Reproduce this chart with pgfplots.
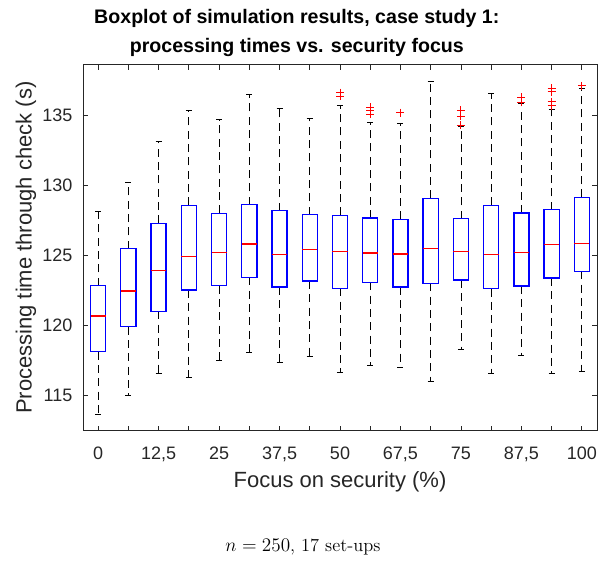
\documentclass[border=0pt]{standalone}
\usepackage{fontspec}
\usepackage{pgfplots}
\pgfplotsset{compat=1.18}
\usepgfplotslibrary{statistics}
\usetikzlibrary{calc}
\newfontfamily\arial{Liberation Sans}
\definecolor{axisgray}{rgb}{0.15,0.15,0.15}
\definecolor{boxblue}{rgb}{0,0,1}
\pgfplotsset{
  boxplot/draw direction=y,
  boxplot/draw/lower whisker/.code={
    \draw[black, line width=0.6pt, dash pattern=on 6pt off 4pt]
      (boxplot box cs:\pgfplotsboxplotvalue{lower quartile},0.5) --
      (boxplot box cs:\pgfplotsboxplotvalue{lower whisker},0.5);
    \draw[black, line width=0.6pt, solid]
      (boxplot whisker cs:\pgfplotsboxplotvalue{lower whisker},0) --
      (boxplot whisker cs:\pgfplotsboxplotvalue{lower whisker},1);
  },
  boxplot/draw/upper whisker/.code={
    \draw[black, line width=0.6pt, dash pattern=on 6pt off 4pt]
      (boxplot box cs:\pgfplotsboxplotvalue{upper quartile},0.5) --
      (boxplot box cs:\pgfplotsboxplotvalue{upper whisker},0.5);
    \draw[black, line width=0.6pt, solid]
      (boxplot whisker cs:\pgfplotsboxplotvalue{upper whisker},0) --
      (boxplot whisker cs:\pgfplotsboxplotvalue{upper whisker},1);
  },
  boxplot/draw/box/.code={
    \draw[boxblue, line width=1.05pt, solid]
      (boxplot box cs:\pgfplotsboxplotvalue{lower quartile},0) rectangle
      (boxplot box cs:\pgfplotsboxplotvalue{upper quartile},1);
  },
  boxplot/draw/median/.code={
    \draw[red, line width=1.05pt, solid]
      (boxplot box cs:\pgfplotsboxplotvalue{median},0) --
      (boxplot box cs:\pgfplotsboxplotvalue{median},1);
  },
  boxplot/box extend=0.5,
  boxplot/whisker extend=0.2,
  mybox/.style={boxblue, solid, mark=+, mark size=3pt, mark options={red, solid, line width=0.7pt}},
}
\begin{document}
\begin{tikzpicture}
\begin{axis}[
  name=ax,
  scale only axis, width=385.5pt, height=274.5pt,
  xmin=0.5, xmax=17.5, ymin=112.45, ymax=138.6,
  clip=false,
  xtick={1,...,17},
  xticklabels={0,{},{12,5},{},25,{},{37,5},{},50,{},{67,5},{},75,{},{87,5},{},100},
  ytick={115,120,125,130,135},
  tick align=inside, major tick length=3.75pt,
  axis line style={draw=axisgray, line width=0.6pt},
  tick style={draw=axisgray, line width=0.6pt},
  /pgf/number format/assume math mode=true,
  tick label style={font=\arial\fontsize{13.5}{16}\selectfont, text=axisgray},
  xticklabel style={yshift=-9pt},
  yticklabel style={xshift=-4.5pt},
  xlabel={Focus on security (\%)},
  ylabel={Processing time through check (s)},
  label style={font=\arial\fontsize{16.5}{19}\selectfont, text=axisgray},
  xlabel style={at={(axis description cs:0.5,-0.140)}, anchor=center},
  ylabel style={at={(axis description cs:-0.111,0.5)}, anchor=center, rotate=0},
  title={Boxplot of simulation results, case study 1:\\processing times vs. security focus},
  title style={font=\arial\bfseries\fontsize{14.7}{21.5}\selectfont, align=center, at={(axis description cs:0.416,1)}, anchor=base, yshift=3pt},
]
\addplot[mybox, boxplot prepared={draw position=1, lower whisker=113.62, lower quartile=118.09, median=120.64, upper quartile=122.81, upper whisker=128.12}] coordinates {};
\addplot[mybox, boxplot prepared={draw position=2, lower whisker=115.0, lower quartile=119.88, median=122.43, upper quartile=125.45, upper whisker=130.17}] coordinates {};
\addplot[mybox, boxplot prepared={draw position=3, lower whisker=116.55, lower quartile=120.98, median=123.88, upper quartile=127.26, upper whisker=133.14}] coordinates {};
\addplot[mybox, boxplot prepared={draw position=4, lower whisker=116.29, lower quartile=122.5, median=124.90, upper quartile=128.55, upper whisker=135.31}] coordinates {};
\addplot[mybox, boxplot prepared={draw position=5, lower whisker=117.45, lower quartile=122.81, median=125.17, upper quartile=127.98, upper whisker=134.67}] coordinates {};
\addplot[mybox, boxplot prepared={draw position=6, lower whisker=118.05, lower quartile=123.40, median=125.79, upper quartile=128.6, upper whisker=136.45}] coordinates {};
\addplot[mybox, boxplot prepared={draw position=7, lower whisker=117.36, lower quartile=122.71, median=125.02, upper quartile=128.17, upper whisker=135.5}] coordinates {};
\addplot[mybox, boxplot prepared={draw position=8, lower whisker=117.74, lower quartile=123.14, median=125.38, upper quartile=127.88, upper whisker=134.74}] coordinates {};
\addplot[mybox, boxplot prepared={draw position=9, lower whisker=116.6, lower quartile=122.62, median=125.26, upper quartile=127.83, upper whisker=135.69}] table[row sep=\\, y index=0] {data\\ 136.6\\ 136.35\\};
\addplot[mybox, boxplot prepared={draw position=10, lower whisker=117.14, lower quartile=123.05, median=125.14, upper quartile=127.64, upper whisker=134.48}] table[row sep=\\, y index=0] {data\\ 135.55\\ 135.3\\ 135.05\\};
\addplot[mybox, boxplot prepared={draw position=11, lower whisker=117.0, lower quartile=122.71, median=125.07, upper quartile=127.55, upper whisker=134.40}] table[row sep=\\, y index=0] {data\\ 135.17\\};
\addplot[mybox, boxplot prepared={draw position=12, lower whisker=115.95, lower quartile=122.98, median=125.48, upper quartile=129.05, upper whisker=137.4}] coordinates {};
\addplot[mybox, boxplot prepared={draw position=13, lower whisker=118.26, lower quartile=123.21, median=125.26, upper quartile=127.6, upper whisker=134.17}] table[row sep=\\, y index=0] {data\\ 135.36\\ 134.93\\ 134.29\\};
\addplot[mybox, boxplot prepared={draw position=14, lower whisker=116.52, lower quartile=122.6, median=125.05, upper quartile=128.55, upper whisker=136.57}] coordinates {};
\addplot[mybox, boxplot prepared={draw position=15, lower whisker=117.81, lower quartile=122.79, median=125.19, upper quartile=128.0, upper whisker=135.83}] table[row sep=\\, y index=0] {data\\ 136.26\\ 135.9\\};
\addplot[mybox, boxplot prepared={draw position=16, lower whisker=116.57, lower quartile=123.36, median=125.76, upper quartile=128.24, upper whisker=135.4}] table[row sep=\\, y index=0] {data\\ 136.9\\ 136.66\\ 135.95\\ 135.66\\};
\addplot[mybox, boxplot prepared={draw position=17, lower whisker=116.71, lower quartile=123.83, median=125.81, upper quartile=129.12, upper whisker=136.88}] table[row sep=\\, y index=0] {data\\ 137.09\\};
\node[font=\fontsize{13.8}{16}\selectfont, anchor=center] at (axis description cs:0.428,-0.318) {$n = 250$, 17 set-ups};
\end{axis}
\pgfresetboundingbox
\path ($(ax.south west)+(-62.25pt,-97.7pt)$) rectangle ($(ax.north east)+(1.5pt,48.5pt)$);
\end{tikzpicture}
\end{document}
